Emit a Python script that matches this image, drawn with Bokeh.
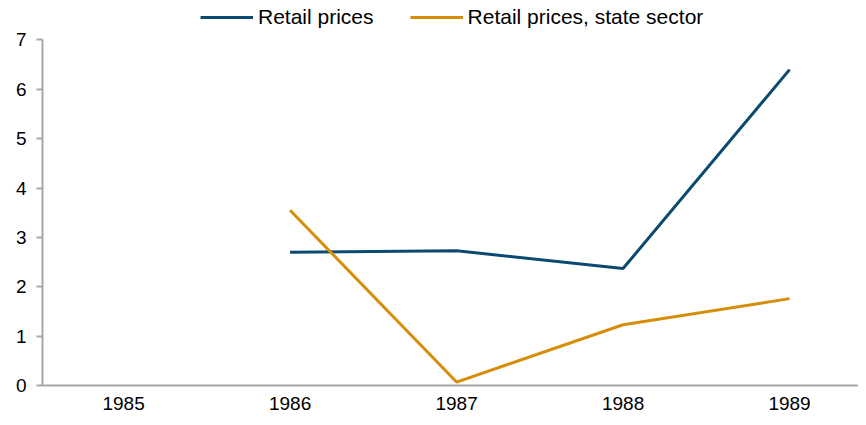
from bokeh.plotting import figure
from bokeh.models import Range1d, Legend, LegendItem, FixedTicker
from bokeh.embed import file_html
from bokeh.resources import INLINE

years = ["1985", "1986", "1987", "1988", "1989"]
retail_years = ["1986", "1987", "1988", "1989"]
retail_prices = [2.70, 2.73, 2.37, 6.40]
state_years = ["1986", "1987", "1988", "1989"]
retail_state = [3.55, 0.07, 1.23, 1.76]
y_ticks = [0, 1, 2, 3, 4, 5, 6, 7]

BLUE = "#0B4A70"
ORANGE = "#D68E0A"
AXIS = "#A6A6A6"
FONT = "Liberation Sans"

xi = {y: i for i, y in enumerate(years)}

# frame extends above the value 7 to hold the legend; axis line is bounded to 0..7
p = figure(width=858, height=417, output_backend="svg", toolbar_location=None,
           x_range=Range1d(-0.487, 4.414), y_range=Range1d(0, 7.8))
p.min_border_left = 42
p.min_border_right = 0
p.min_border_top = 0
p.min_border_bottom = 32
p.outline_line_color = None
p.grid.grid_line_color = None
p.background_fill_color = "white"

r1 = p.line([xi[y] for y in retail_years], retail_prices, line_color=BLUE, line_width=3)
r2 = p.line([xi[y] for y in state_years], retail_state, line_color=ORANGE, line_width=3)

xa = p.xaxis[0]
xa.ticker = FixedTicker(ticks=list(range(len(years))))
xa.major_label_overrides = {i: y for i, y in enumerate(years)}
xa.major_tick_line_color = None
xa.minor_tick_line_color = None
xa.major_tick_out = 0
xa.major_tick_in = 0
xa.axis_line_color = AXIS
xa.axis_line_width = 2
xa.major_label_text_font = FONT
xa.major_label_text_font_size = "19px"
xa.major_label_text_color = "#000000"
xa.major_label_standoff = 11

ya = p.yaxis[0]
ya.ticker = FixedTicker(ticks=y_ticks)
ya.bounds = (0, 7)
ya.minor_tick_line_color = None
ya.major_tick_in = 0
ya.major_tick_out = 6
ya.major_tick_line_color = AXIS
ya.major_tick_line_width = 2
ya.axis_line_color = AXIS
ya.axis_line_width = 2
ya.major_label_text_font = FONT
ya.major_label_text_font_size = "19px"
ya.major_label_text_color = "#000000"
ya.major_label_standoff = 10

legend = Legend(items=[LegendItem(label="Retail prices", renderers=[r1]),
                       LegendItem(label="Retail prices, state sector", renderers=[r2])],
                orientation="horizontal", location=(158, 356))
legend.padding = 0
legend.margin = 0
legend.spacing = 36
legend.glyph_width = 53
legend.glyph_height = 18
legend.label_height = 18
legend.label_standoff = 5
legend.label_text_font = FONT
legend.label_text_font_size = "21px"
legend.label_text_color = "#000000"
legend.border_line_alpha = 0
legend.background_fill_alpha = 0
p.add_layout(legend, "center")

open("out.html", "w").write(file_html(p, INLINE))
